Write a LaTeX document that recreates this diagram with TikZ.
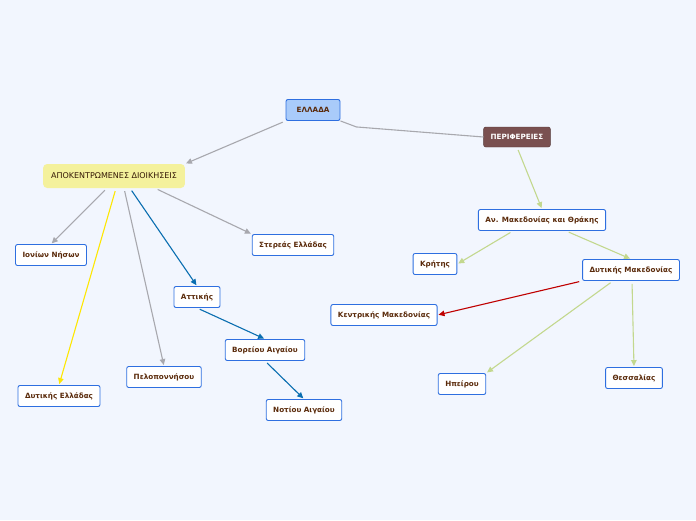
\documentclass[tikz,border=0pt]{standalone}
\usepackage{fontspec}
\setmainfont{DejaVu Sans}
\usetikzlibrary{arrows.meta,positioning}
\definecolor{bg}{HTML}{F2F6FE}
\definecolor{topic}{HTML}{A9CBFA}
\definecolor{edgeblue}{HTML}{2E6FE0}
\definecolor{brownbox}{HTML}{7A5050}
\definecolor{yellowbox}{HTML}{F4F19C}
\definecolor{txt}{HTML}{5A2A0A}
\definecolor{lgreen}{HTML}{C3D88E}
\definecolor{lgray}{HTML}{A8A8AE}
\definecolor{dblue}{HTML}{0A6EB0}
\tikzset{
    leaf/.style={draw=edgeblue, fill=white, rounded corners=2pt, line width=0.9pt, text=txt, font=\fontsize{7.2}{8}\selectfont\bfseries, minimum height=21pt, inner xsep=7pt},
    root/.style={leaf, fill=topic, minimum width=54pt},
    region/.style={draw=brownbox!70!black, fill=brownbox, rounded corners=2pt, text=white, font=\fontsize{7.2}{8}\selectfont\bfseries, minimum height=20pt, inner xsep=7pt},
    admin/.style={fill=yellowbox, rounded corners=4pt, text=txt!60!black, font=\fontsize{8}{9}\selectfont, minimum height=24pt, inner xsep=8pt},
    arrow/.style={-{Triangle[length=6pt,width=5.5pt]}, line width=1.1pt, shorten <=3pt, shorten >=1pt}
}
\begin{document}
\begin{tikzpicture}[x=1pt,y=-1pt]
    \fill[bg] (0,0) rectangle (696,520);
    % Root and main branches
    \node[root] (gr) at (313,110) {ΕΛΛΑΔΑ};
    \node[region] (per) at (517,137) {ΠΕΡΙΦΕΡΕΙΕΣ};
    \node[admin] (apo) at (114,176) {ΑΠΟΚΕΝΤΡΩΜΕΝΕΣ ΔΙΟΙΚΗΣΕΙΣ};

    % Decentralized administrations
    \node[leaf] (ion) at (51,255) {Ιονίων Νήσων};
    \node[leaf] (ste) at (293,245) {Στερεάς Ελλάδας};
    \node[leaf] (att) at (197,297) {Αττικής};
    \node[leaf] (bor) at (265,350) {Βορείου Αιγαίου};
    \node[leaf] (pel) at (164,377) {Πελοποννήσου};
    \node[leaf] (dye) at (59,396) {Δυτικής Ελλάδας};
    \node[leaf] (not) at (304,410) {Νοτίου Αιγαίου};

    % Regions
    \node[leaf] (amth) at (542,220) {Αν. Μακεδονίας και Θράκης};
    \node[leaf] (kri) at (435,264) {Κρήτης};
    \node[leaf] (dym) at (631,270) {Δυτικής Μακεδονίας};
    \node[leaf] (kem) at (384,315) {Κεντρικής Μακεδονίας};
    \node[leaf] (ipe) at (462,384) {Ηπείρου};
    \node[leaf] (the) at (634,378) {Θεσσαλίας};

    % Connections
    \draw[arrow, lgray] (gr.south west) -- (apo.north east);
    \draw[lgray, line width=1.1pt] (gr.south east) -- ++(16,6) -- (per.west);
    \draw[arrow, lgreen] (per.south) -- (amth.north);
    \draw[arrow, lgray] ([xshift=-7pt]apo.south) -- (ion.north);
    \draw[arrow, yellow!90!orange] ([xshift=2pt]apo.south) -- (dye.north);
    \draw[arrow, lgray] ([xshift=10pt]apo.south) -- (pel.north);
    \draw[arrow, dblue] ([xshift=16pt]apo.south) -- (att.north);
    \draw[arrow, lgray] ([xshift=41pt]apo.south) -- (ste.north west);
    \draw[arrow, dblue] (att.south) -- (bor.north);
    \draw[arrow, dblue] (bor.south) -- (not.north);
    \draw[arrow, lgreen] ([xshift=-29pt]amth.south) -- (kri.east);
    \draw[arrow, lgreen] ([xshift=24pt]amth.south) -- (dym.north);
    \draw[arrow, red!75!black] (dym.south west) -- (kem.east);
    \draw[arrow, lgreen] ([xshift=-18pt]dym.south) -- (ipe.north east);
    \draw[arrow, lgreen] ([xshift=1pt]dym.south) -- (the.north);
\end{tikzpicture}
\end{document}
